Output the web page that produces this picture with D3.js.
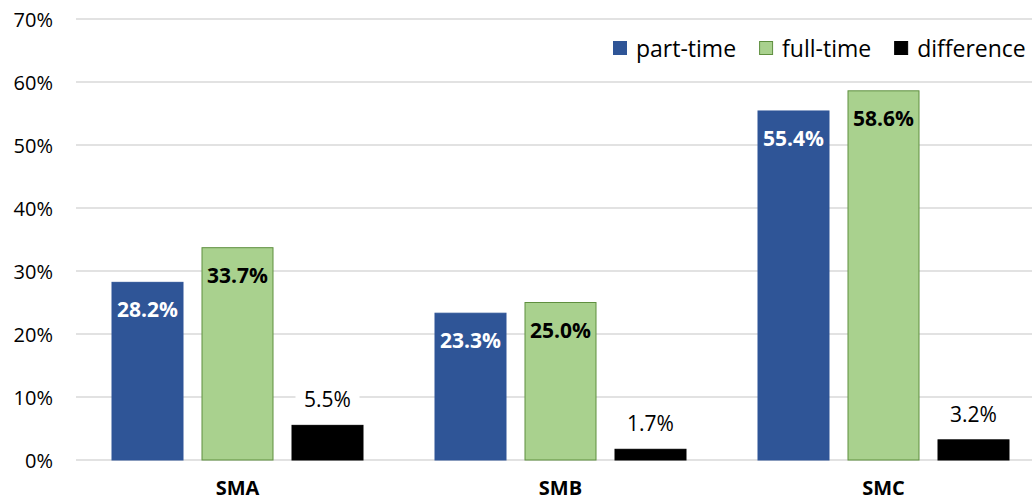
<!DOCTYPE html>
<html>
<head>
<meta charset="utf-8">
<script src="https://cdn.jsdelivr.net/npm/d3@7"></script>
<style>
  body { margin: 0; background: #fff; }
  svg { display: block; font-family: "Open Sans", "Noto Sans", sans-serif; }
</style>
</head>
<body>
<div id="chart"></div>
<script>
// chart data
const categories = ["SMA", "SMB", "SMC"];
const seriesNames = ["part-time", "full-time", "difference"];
const partTime = [28.2, 23.3, 55.4];
const fullTime = [33.7, 25.0, 58.6];
const difference = [5.5, 1.7, 3.2];
const yTicks = [0, 10, 20, 30, 40, 50, 60, 70];

const colors = ["#2f5597", "#a9d18e", "#000000"];
const strokes = ["#2f5597", "#5f8f3f", "#000000"];

const width = 1032, height = 501;
const svg = d3.select("#chart")
    .append("svg")
    .attr("width", width)
    .attr("height", height);

// scales
const x = d3.scaleBand()
    .domain(categories)
    .range([76, 1045])
    .paddingInner(0)
    .paddingOuter(0);

const x1 = d3.scaleBand()
    .domain(seriesNames)
    .range([35.5, x.bandwidth() - 35.5])
    .paddingInner(0.2)
    .paddingOuter(0);

const y = d3.scaleLinear()
    .domain([0, 70])
    .range([460, 19]);

// gridlines
svg.append("g")
    .selectAll("line")
    .data(yTicks)
    .join("line")
    .attr("x1", 76)
    .attr("x2", width)
    .attr("y1", d => y(d))
    .attr("y2", d => y(d))
    .attr("stroke", "#d9d9d9")
    .attr("stroke-width", 1.5);

// y axis labels
const yAxis = svg.append("g")
    .attr("transform", "translate(53,0)")
    .call(d3.axisLeft(y).tickValues(yTicks).tickFormat(d => d + "%").tickSize(0).tickPadding(0));
yAxis.select(".domain").remove();
yAxis.selectAll("text")
    .attr("font-family", "Open Sans")
    .attr("font-size", 20)
    .attr("fill", "#000")
    .attr("dy", "0.35em");

// x axis labels
const xAxis = svg.append("g")
    .attr("transform", "translate(0,495)")
    .call(d3.axisBottom(x).tickSize(0).tickPadding(0));
xAxis.select(".domain").remove();
xAxis.selectAll("text")
    .attr("font-family", "Open Sans")
    .attr("font-size", 20)
    .attr("font-weight", "bold")
    .attr("fill", "#000")
    .attr("dy", 0);

// build rows from arrays
const rows = categories.map((c, i) => ({
    cat: c,
    values: [partTime[i], fullTime[i], difference[i]].map((v, j) => ({ cat: c, key: seriesNames[j], idx: j, value: v }))
}));

const groups = svg.append("g")
    .selectAll("g")
    .data(rows)
    .join("g")
    .attr("transform", d => `translate(${x(d.cat)},0)`);

groups.selectAll("rect")
    .data(d => d.values)
    .join("rect")
    .attr("x", d => x1(d.key) + 0.5)
    .attr("y", d => y(d.value))
    .attr("width", x1.bandwidth() - 1)
    .attr("height", d => y(0) - y(d.value))
    .attr("fill", d => colors[d.idx])
    .attr("stroke", d => strokes[d.idx])
    .attr("stroke-width", 1);

// labels inside bars (part-time, full-time)
groups.selectAll("text.inside")
    .data(d => d.values.filter(v => v.idx < 2))
    .join("text")
    .attr("class", "inside")
    .attr("x", d => x1(d.key) + x1.bandwidth() / 2)
    .attr("y", d => y(d.value) + 35)
    .attr("text-anchor", "middle")
    .attr("font-size", 21)
    .attr("font-weight", "bold")
    .attr("fill", d => d.idx === 0 ? "#fff" : "#000")
    .text(d => d.value.toFixed(1) + "%");

// labels above difference bars, with white box
const diffLabels = groups.selectAll("g.diff")
    .data(d => d.values.filter(v => v.idx === 2))
    .join("g")
    .attr("class", "diff");

diffLabels.append("rect")
    .attr("x", d => x1(d.key) + x1.bandwidth() / 2 - 32)
    .attr("y", d => y(d.value) - 38)
    .attr("width", 64)
    .attr("height", 30)
    .attr("fill", "#fff");

diffLabels.append("text")
    .attr("x", d => x1(d.key) + x1.bandwidth() / 2)
    .attr("y", d => y(d.value) - 18)
    .attr("text-anchor", "middle")
    .attr("font-size", 21)
    .attr("fill", "#000")
    .text(d => d.value.toFixed(1) + "%");

// legend
const legend = svg.append("g").attr("transform", "translate(613,0)");
let lx = 0;
seriesNames.forEach((name, i) => {
    const item = legend.append("g").attr("transform", `translate(${lx},0)`);
    item.append("rect")
        .attr("x", 0.5)
        .attr("y", 41.5)
        .attr("width", 13)
        .attr("height", 13)
        .attr("fill", colors[i])
        .attr("stroke", strokes[i]);
    const t = item.append("text")
        .attr("x", 23)
        .attr("y", 57)
        .attr("font-size", 23)
        .attr("fill", "#000")
        .text(name);
    lx += 23 + t.node().getComputedTextLength() + 23;
});
</script>
</body>
</html>
